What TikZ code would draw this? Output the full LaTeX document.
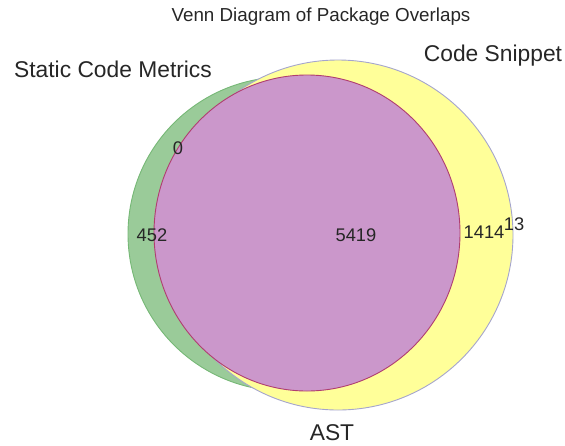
\documentclass[tikz,border=0pt]{standalone}
\usepackage{fontspec}
\setmainfont{Liberation Sans}
\usepackage{tikz}
\usetikzlibrary{positioning,shapes.geometric}
\definecolor{vennGreen}{RGB}{154,203,153}
\definecolor{vennYellow}{RGB}{255,255,153}
\definecolor{vennPink}{RGB}{203,151,203}
\definecolor{edgeGreen}{RGB}{118,184,118}
\definecolor{edgeYellow}{RGB}{165,165,205}
\definecolor{edgePink}{RGB}{176,62,112}
\definecolor{inkgray}{RGB}{38,38,38}
\tikzset{
  setcircle/.style={circle, inner sep=0pt, line width=0.9pt},
  greenset/.style={setcircle, fill=vennGreen, draw=edgeGreen},
  yellowset/.style={setcircle, fill=vennYellow, draw=edgeYellow},
  pinkset/.style={ellipse, inner sep=0pt, line width=0.9pt, fill=vennPink, draw=edgePink},
  setlabel/.style={text=inkgray, font=\fontsize{22.8}{26}\selectfont},
  count/.style={text=inkgray, font=\fontsize{18.3}{21}\selectfont, inner sep=0pt},
  titletext/.style={text=inkgray, font=\fontsize{18.8}{21}\selectfont},
}

\begin{document}
\begin{tikzpicture}[x=1pt, y=-1pt]
  \useasboundingbox (0,0) rectangle (565,445);

  % the three sets
  \node[greenset, minimum size=314pt] (static) at (285,234) {};
  \node[yellowset, minimum size=350pt] (snippet) at (338,235) {};
  \node[pinkset, minimum width=306pt, minimum height=316pt] (ast) at (307,233) {};

  % names and title
  \node[titletext] (title) at (321,17) {Venn Diagram of Package Overlaps};
  \node[setlabel] (staticname) at (113,69) {Static Code Metrics};
  \node[setlabel] (snippetname) at (493,56) {Code Snippet};
  \node[setlabel] (astname) at (332,433) {AST};

  % region counts
  \node[count] (nzero) at (178,148) {0};
  \node[count] (nstatic) at (152,235) {452};
  \node[count] (nall) at (356,235) {5419};
  \node[count] (nboth) at (484,232) {1414};
  \node[count] (nsnippet) at (514,224) {13};
\end{tikzpicture}
\end{document}
